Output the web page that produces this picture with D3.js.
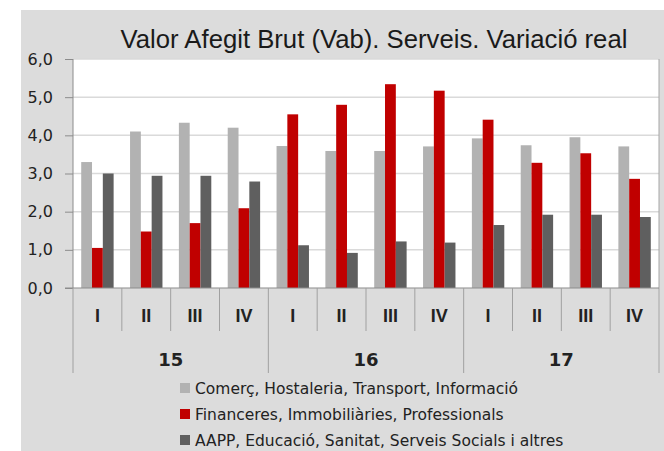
<!DOCTYPE html>
<html>
<head>
<meta charset="utf-8">
<script src="https://cdn.jsdelivr.net/npm/d3@7"></script>
<style>
  body { margin: 0; background: #fff; }
  svg { display: block; }
</style>
</head>
<body>
<div id="chart"></div>
<script>
const years = ['15', '16', '17'];
const quarters = ['I', 'II', 'III', 'IV'];
const seriesNames = [
  'Comerç, Hostaleria, Transport, Informació',
  'Financeres, Immobiliàries, Professionals',
  'AAPP, Educació, Sanitat, Serveis Socials i altres'
];
const comerc = [3.3, 4.1, 4.33, 4.2, 3.72, 3.59, 3.59, 3.71, 3.92, 3.74, 3.95, 3.71];
const financeres = [1.05, 1.48, 1.7, 2.09, 4.55, 4.8, 5.34, 5.17, 4.41, 3.28, 3.53, 2.86];
const aapp = [3.0, 2.94, 2.94, 2.79, 1.12, 0.92, 1.22, 1.19, 1.65, 1.92, 1.92, 1.86];
const yTicks = [0, 1, 2, 3, 4, 5, 6];
const colors = ['#b2b2b2', '#c00000', '#5f5f5f'];

const W = 664, H = 451;
const plot = { left: 73, right: 659, top: 59, bottom: 288 };

const svg = d3.select('#chart').append('svg')
  .attr('width', W).attr('height', H);

// chart background
svg.append('rect')
  .attr('x', 21).attr('y', 10)
  .attr('width', W - 21).attr('height', H - 10)
  .attr('fill', '#dcdcdc');

// plot area
svg.append('rect')
  .attr('x', plot.left).attr('y', plot.top)
  .attr('width', plot.right - plot.left).attr('height', plot.bottom - plot.top)
  .attr('fill', '#fff');

const cats = [];
years.forEach(y => quarters.forEach(q => cats.push(y + '-' + q)));
const data = cats.map((c, i) => ({ cat: c, values: [comerc[i], financeres[i], aapp[i]] }));

const x0 = d3.scaleBand().domain(cats).range([plot.left, plot.right]);
const x1 = d3.scaleBand().domain(d3.range(3)).range([0, x0.bandwidth()])
  .paddingInner(0).paddingOuter(0.76);
const xYear = d3.scaleBand().domain(years).range([plot.left, plot.right]);
const y = d3.scaleLinear().domain([0, 6]).range([plot.bottom, plot.top]);

// gridlines
svg.append('g')
  .selectAll('line')
  .data(yTicks.filter(d => d > 0))
  .enter().append('line')
  .attr('x1', plot.left).attr('x2', plot.right)
  .attr('y1', d => y(d)).attr('y2', d => y(d))
  .attr('stroke', '#dadada')
  .attr('stroke-width', 1.5);

// bars
const groups = svg.append('g')
  .selectAll('g')
  .data(data)
  .enter().append('g')
  .attr('transform', d => `translate(${x0(d.cat)},0)`);

groups.selectAll('rect')
  .data(d => d.values.map((v, i) => ({ v, i })))
  .enter().append('rect')
  .attr('x', d => x1(d.i))
  .attr('y', d => y(d.v))
  .attr('width', x1.bandwidth())
  .attr('height', d => y(0) - y(d.v))
  .attr('fill', d => colors[d.i]);

// y axis
const yAxis = svg.append('g')
  .attr('transform', `translate(${plot.left},0)`)
  .call(d3.axisLeft(y).tickValues(yTicks).tickSize(8).tickPadding(12)
    .tickFormat(d => d3.format('.1f')(d).replace('.', ',')));
yAxis.select('.domain').attr('stroke', '#8c8c8c').attr('d', `M0,${plot.top}V${plot.bottom}`);
yAxis.selectAll('.tick line').attr('stroke', '#8c8c8c');
yAxis.selectAll('.tick text')
  .attr('fill', '#222')
  .style('font-family', '"DejaVu Sans", sans-serif')
  .style('font-size', '16px');

// right border of plot
svg.append('line')
  .attr('x1', plot.right).attr('x2', plot.right)
  .attr('y1', plot.top).attr('y2', 373)
  .attr('stroke', '#a6a6a6').attr('stroke-width', 1);

// category axis line
svg.append('line')
  .attr('x1', 65).attr('x2', plot.right)
  .attr('y1', plot.bottom).attr('y2', plot.bottom)
  .attr('stroke', '#8c8c8c').attr('stroke-width', 1.2);

// quarter separators
svg.append('g')
  .selectAll('line')
  .data(cats)
  .enter().append('line')
  .attr('x1', d => x0(d)).attr('x2', d => x0(d))
  .attr('y1', plot.bottom).attr('y2', d => d.endsWith('-I') ? 373 : 331)
  .attr('stroke', '#a0a0a0').attr('stroke-width', 1);

// quarter labels
svg.append('g')
  .selectAll('text')
  .data(cats)
  .enter().append('text')
  .attr('x', d => x0(d) + x0.bandwidth() / 2)
  .attr('y', 322)
  .attr('text-anchor', 'middle')
  .attr('fill', '#222')
  .style('font-family', '"Liberation Sans", Arial, sans-serif')
  .style('font-weight', 'bold')
  .style('font-size', '18px')
  .text(d => d.split('-')[1]);

// year labels
svg.append('g')
  .selectAll('text')
  .data(years)
  .enter().append('text')
  .attr('x', d => xYear(d) + xYear.bandwidth() / 2)
  .attr('y', 366)
  .attr('text-anchor', 'middle')
  .attr('fill', '#222')
  .style('font-family', '"DejaVu Sans", sans-serif')
  .style('font-weight', 'bold')
  .style('font-size', '18px')
  .text(d => d);

// title
svg.append('text')
  .attr('x', 374)
  .attr('y', 48)
  .attr('text-anchor', 'middle')
  .attr('fill', '#1a1a1a')
  .style('font-family', '"Liberation Sans", Arial, sans-serif')
  .style('font-size', '25.7px')
  .text('Valor Afegit Brut (Vab). Serveis. Variació real');

// legend
const legend = svg.append('g')
  .selectAll('g')
  .data(seriesNames)
  .enter().append('g')
  .attr('transform', (d, i) => `translate(180,${388 + i * 26})`);

legend.append('rect')
  .attr('x', 0).attr('y', -5)
  .attr('width', 10).attr('height', 10)
  .attr('fill', (d, i) => colors[i]);

legend.append('text')
  .attr('x', 15).attr('y', 6)
  .attr('fill', '#222')
  .style('font-family', '"DejaVu Sans", sans-serif')
  .style('font-size', '15.5px')
  .text(d => d);
</script>
</body>
</html>
